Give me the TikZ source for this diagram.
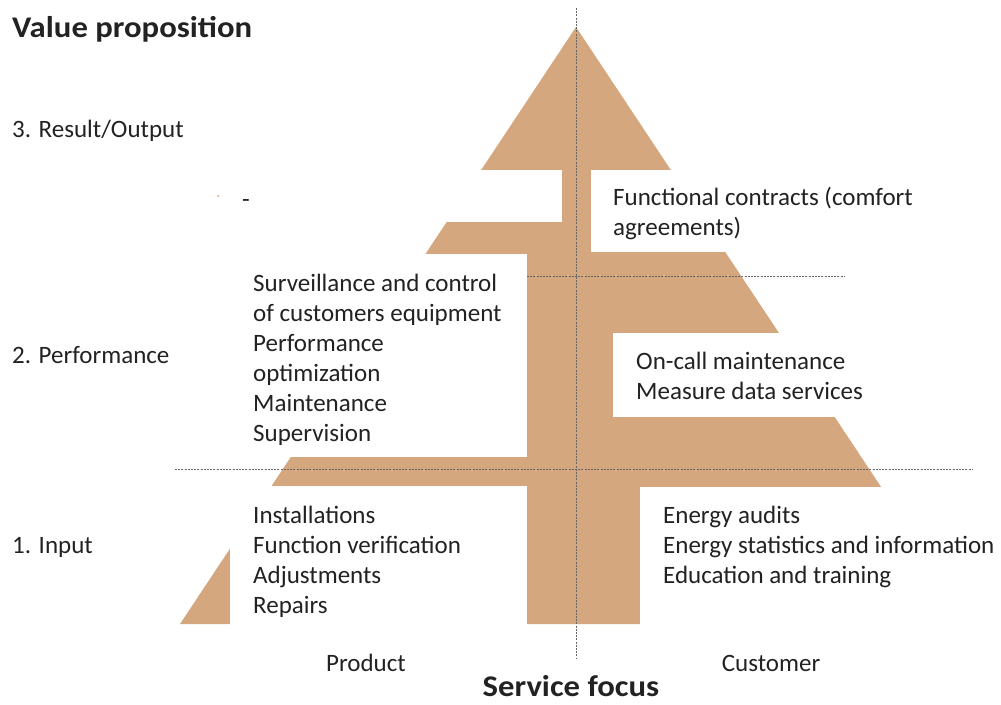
\documentclass[tikz,border=0pt]{standalone}
\usepackage{fontspec}
\setmainfont{Carlito}
\definecolor{tan}{HTML}{D4A77F}
\definecolor{txt}{HTML}{222222}
\definecolor{dash}{HTML}{666666}
\begin{document}
\begin{tikzpicture}[x=1pt,y=-1pt,
  body/.style={anchor=base west,inner sep=0pt,text=txt,font=\fontsize{25}{30}\selectfont},
  bodyc/.style={anchor=base,inner sep=0pt,text=txt,font=\fontsize{25}{30}\selectfont},
  titlefont/.style={inner sep=0pt,text=txt,xscale=1.09,font=\bfseries\fontsize{30}{36}\selectfont},
  guide/.style={draw=dash,line width=0.6pt,dash pattern=on 2pt off 1.2pt},
  whitebox/.style={fill=white,draw=none}]
\useasboundingbox (0,0) rectangle (1001,704);
% pyramid
\fill[tan] (576,27) -- (972,624) -- (180,624) -- cycle;
\fill[whitebox] (170,170) rectangle (562,222);
\fill[whitebox] (591,170) rectangle (990,252);
\fill[whitebox] (170,254) rectangle (527,457);
\fill[whitebox] (613,333) rectangle (990,417);
\fill[whitebox] (230,486) rectangle (527,630);
\fill[whitebox] (640,487) rectangle (990,630);
% guides
\coordinate (vt) at (576,8);
\coordinate (vb) at (576,659);
\coordinate (h1l) at (527,276);
\coordinate (h1r) at (844,276);
\coordinate (h2l) at (175,469);
\coordinate (h2r) at (972,469);
\draw[guide] (vt) -- (vb);
\draw[guide] (h1l) -- (h1r);
\draw[guide] (h2l) -- (h2r);
% stray marks
\fill[tan] (218,196) circle (1pt);
\node[body] (dashmark) at (242,207) {-};
% titles
\node[titlefont,anchor=base west] (vp) at (12,37) {Value proposition};
\node[titlefont,anchor=base] (sf) at (571,696) {Service focus};
% levels
\node[body] (l3) at (12,137) {3. Result/Output};
\node[body] (l2) at (12,363) {2. Performance};
\node[body] (l1) at (12,553) {1. Input};
% functional
\node[body] (f1) at (613,205) {Functional contracts (comfort};
\node[body] (f2) at (613,235) {agreements)};
% surveillance
\node[body] (s1) at (253,291) {Surveillance and control};
\node[body] (s2) at (253,321) {of customers equipment};
\node[body] (s3) at (253,351) {Performance};
\node[body] (s4) at (253,381) {optimization};
\node[body] (s5) at (253,411) {Maintenance};
\node[body] (s6) at (253,441) {Supervision};
% on-call
\node[body] (o1) at (636,369) {On-call maintenance};
\node[body] (o2) at (636,399) {Measure data services};
% input
\node[body] (i1) at (253,523) {Installations};
\node[body] (i2) at (253,553) {Function verification};
\node[body] (i3) at (253,583) {Adjustments};
\node[body] (i4) at (253,613) {Repairs};
% energy
\node[body] (e1) at (663,523) {Energy audits};
\node[body] (e2) at (663,553) {Energy statistics and information};
\node[body] (e3) at (663,583) {Education and training};
% axis labels
\node[bodyc] (prod) at (366,671) {Product};
\node[bodyc] (cust) at (771,671) {Customer};
\end{tikzpicture}
\end{document}
